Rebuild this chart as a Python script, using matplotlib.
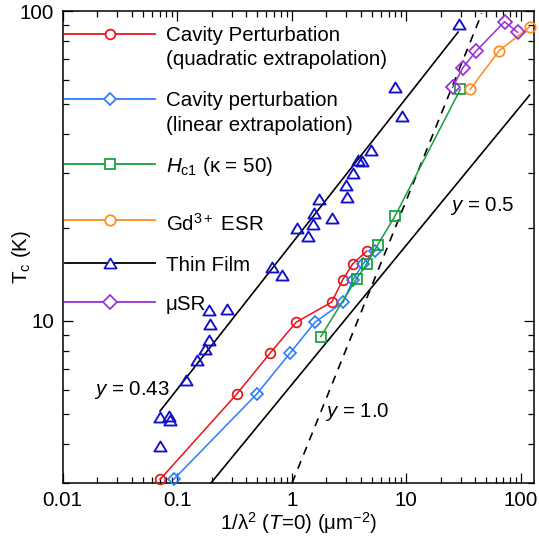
import matplotlib
matplotlib.use('Agg')
import matplotlib.pyplot as plt
import numpy as np
from matplotlib.path import Path
from matplotlib.ticker import FixedLocator, LogLocator, NullFormatter, FixedFormatter

plt.rcParams['font.family'] = ['Liberation Sans', 'DejaVu Sans']
plt.rcParams['mathtext.fontset'] = 'custom'
plt.rcParams['mathtext.rm'] = 'Liberation Sans'
plt.rcParams['mathtext.it'] = 'Liberation Sans:italic'
plt.rcParams['mathtext.bf'] = 'Liberation Sans:bold'

# ---------------- data ----------------
tc_cavity = [3.08, 5.81, 7.87, 9.9, 11.5, 13.6, 15.3, 16.8]
x_cav_quad = [0.0708, 0.331, 0.646, 1.09, 2.23, 2.79, 3.41, 4.52]
x_cav_lin = [0.093, 0.495, 0.964, 1.59, 2.81, 3.43, 4.19, 5.3]

x_hc1 = [1.79, 3.68, 4.52, 5.62, 7.96, 29.6]
tc_hc1 = [8.9, 13.7, 15.3, 17.6, 21.8, 55.9]

x_esr = [36.1, 64.6, 120.0]
tc_esr = [55.9, 74.5, 89.0]

x_musr = [25.3, 31.1, 40.7, 71.9, 93.4]
tc_musr = [56.7, 65.6, 74.3, 92.4, 85.4]

x_film = [0.0703, 0.0842, 0.0871, 0.0703, 0.120, 0.150, 0.173, 0.188, 0.194,
          0.188, 0.271, 0.672, 0.817, 1.10, 1.38, 1.54, 1.57, 1.72, 2.25,
          3.06, 2.96, 3.39, 3.81, 4.14, 4.89, 7.91, 9.1, 28.7]
tc_film = [4.89, 4.95, 4.79, 3.95, 6.43, 7.46, 8.1, 8.68, 9.78,
           10.85, 10.9, 14.9, 14.1, 20.0, 18.8, 20.5, 22.3, 24.7, 21.5,
           25.1, 27.4, 30.0, 33.1, 32.8, 35.6, 57.0, 45.7, 90.8]

# guide power laws: Tc = tc0 * (x/x0)^slope for x0 <= x <= x1
guide_x0 = [0.0708, 0.197, 1.006]
guide_x1 = [28.3, 119.0, 45.6]
guide_tc0 = [5.12, 3.0, 3.0]
guide_slope = [0.47, 0.45, 0.915]
guide_style = ['-', '-', '--']
guide_labels = ['$y$ = 0.43', '$y$ = 0.5', '$y$ = 1.0']
guide_label_x = [0.040, 45.9, 3.72]
guide_label_tc = [5.77, 22.7, 4.9]

x_ticks = [0.01, 0.1, 1, 10, 100]
x_ticklabels = ['0.01', '0.1', '1', '10', '100']
y_ticks = [10, 100]
y_ticklabels = ['10', '100']

# ---------------- style ----------------
RED = '#e8141c'
BLUE = '#2b7cff'
GREEN = '#13a03c'
ORANGE = '#ff8a1e'
PURPLE = '#9a30d6'
TRI = '#1010cc'
FS = 14.8

tri = Path([(0, 0.82), (-1, -0.82), (1, -0.82), (0, 0.82)],
           [Path.MOVETO, Path.LINETO, Path.LINETO, Path.CLOSEPOLY])

fig = plt.figure(figsize=(5.39, 5.37), dpi=100)
ax = fig.add_axes([0.1163, 0.1006, 0.8744, 0.8789])
ax.set_xscale('log')
ax.set_yscale('log')
ax.set_xlim(0.01, 130)
ax.set_ylim(3, 100)

# guide lines
for x0, x1, t0, s, ls in zip(guide_x0, guide_x1, guide_tc0, guide_slope, guide_style):
    xs = np.array([x0, x1])
    ys = t0 * (xs / x0) ** s
    line, = ax.plot(xs, ys, color='black', lw=1.2, ls=ls, zorder=2)
    if ls == '--':
        line.set_dashes((5.0, 4.2))
for lab, lx, ly in zip(guide_labels, guide_label_x, guide_label_tc):
    ax.text(lx, ly, lab, fontsize=FS, ha='center', va='baseline', zorder=5)

common = dict(mfc='none', mew=1.25, lw=1.1, zorder=4, clip_on=False)
ax.plot(x_cav_quad, tc_cavity, color=RED, marker='o', ms=7, **common)
ax.plot(x_cav_lin, tc_cavity, color=BLUE, marker='D', ms=6.3, **common)
ax.plot(x_hc1, tc_hc1, color=GREEN, marker='s', ms=7.8, **common)
ax.plot(x_esr, tc_esr, color=ORANGE, marker='o', ms=7.5, **common)
ax.plot(x_musr, tc_musr, color=PURPLE, marker='D', ms=6.8, **common)
ax.plot(x_film, tc_film, ls='none', color=TRI, marker=tri, ms=8.8,
        mfc='none', mew=1.35, zorder=4)

# axes formatting
ax.xaxis.set_major_locator(FixedLocator(x_ticks))
ax.xaxis.set_major_formatter(FixedFormatter(x_ticklabels))
ax.xaxis.set_minor_locator(LogLocator(base=10, subs=range(2, 10), numticks=20))
ax.xaxis.set_minor_formatter(NullFormatter())
ax.yaxis.set_major_locator(FixedLocator(y_ticks))
ax.yaxis.set_major_formatter(FixedFormatter(y_ticklabels))
ax.yaxis.set_minor_locator(LogLocator(base=10, subs=range(2, 10), numticks=20))
ax.yaxis.set_minor_formatter(NullFormatter())
ax.tick_params(which='both', direction='in', top=True, right=True,
               width=0.9, labelsize=FS)
ax.tick_params(which='major', length=7.5, pad=6)
ax.tick_params(which='minor', length=4)
for sp in ax.spines.values():
    sp.set_linewidth(1.1)

ax.set_xlabel(r'1/λ$^2$ ($T$=0) (μm$^{-2}$)', fontsize=FS)
ax.xaxis.set_label_coords(0.5, -0.058)
ax.set_ylabel(r'T$_{\rm c}$ (K)', fontsize=FS)
ax.yaxis.set_label_coords(-0.063, 0.48)

# legend (manual)
leg_line_x = [0.005, 0.196]
leg_marker_x = 0.1004
leg_text_x = 0.2192
leg_entries = [
    (0.9519, RED, RED, 'o', 7, [('Cavity Perturbation', 0.9354), ('(quadratic extrapolation)', 0.8846)]),
    (0.8136, BLUE, BLUE, 'D', 6.3, [('Cavity perturbation', 0.7977), ('(linear extrapolation)', 0.7468)]),
    (0.6765, GREEN, GREEN, 's', 7.8, [(r'$H_{\rm c1}$ (κ = 50)', 0.6595)]),
    (0.5578, ORANGE, ORANGE, 'o', 7.5, [(r'Gd$^{3+}$ ESR', 0.5339)]),
    (0.4655, 'black', TRI, tri, 8.8, [('Thin Film', 0.4498)]),
    (0.3828, PURPLE, PURPLE, 'D', 6.8, [('μSR', 0.3665)]),
]
for ym, lc, mc, mk, ms, texts in leg_entries:
    ax.plot(leg_line_x, [ym, ym], color=lc, lw=1.3, transform=ax.transAxes, zorder=6)
    ax.plot([leg_marker_x], [ym], marker=mk, ms=ms, mfc='white', mec=mc, mew=1.25,
            ls='none', transform=ax.transAxes, zorder=7)
    for t, yb in texts:
        ax.text(leg_text_x, yb, t, fontsize=FS, transform=ax.transAxes,
                ha='left', va='baseline', zorder=7)

fig.savefig('out.png', dpi=100)
